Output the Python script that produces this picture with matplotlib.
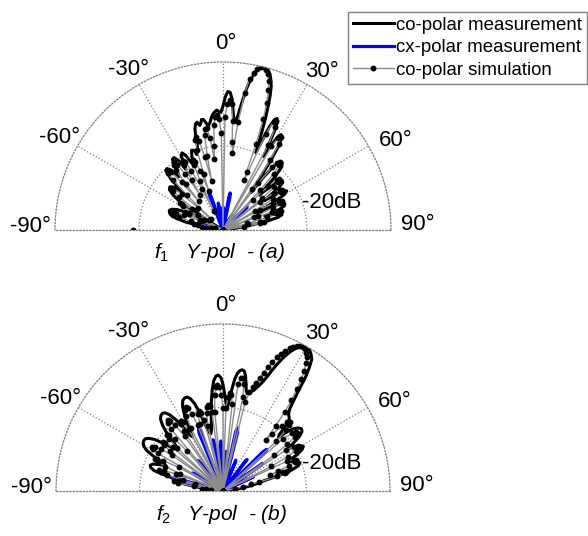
import numpy as np
import matplotlib
matplotlib.use('Agg')
import matplotlib.pyplot as plt

plt.rcParams['font.family'] = ['Liberation Sans', 'DejaVu Sans']
plt.rcParams['mathtext.fontset'] = 'custom'
plt.rcParams['mathtext.it'] = 'Liberation Sans:italic'
plt.rcParams['mathtext.rm'] = 'Liberation Sans'

# ---- (a) f1, Y-pol ----
# co-polar measurement, angle (deg) / level (dB)
a_meas_deg = [-90, -84, -80, -78, -76, -74, -72, -70, -68, -66, -64, -62, -61,
              -59, -57, -55, -53, -51, -49, -47.5, -46.5,
              -45.5, -44, -42.5, -41, -39.5, -38.5,
              -37, -35.5, -34, -32.5, -31.5, -30.5,
              -29.5, -28, -26.5, -25, -24,
              -23, -21.5, -20, -19, -18, -17, -16.3,
              -15.5, -14.5, -13.5, -12.5, -11.7, -11, -10, -9, -8, -7, -6, -5, -4, -3, -2, -1,
              0, 1, 2, 3, 4, 5, 6, 6.8, 7.6, 8.5, 9.5, 10.5, 11.5, 12.5, 13.5, 14.5, 15.5,
              16.5, 17.5, 18.5, 19.3, 20, 20.8, 21.5, 22.2, 23,
              23.6, 24.2, 25, 25.8, 26.7, 27.5, 28.2, 28.8,
              29.5, 30.3, 31.3, 32.5, 33.5, 34.5, 35.5, 36.5,
              37.5, 38.5, 40, 41.5, 43, 44.5, 46,
              47, 48.5, 50, 51.5, 53, 54.5,
              55.5, 57, 58.5, 60, 61.5, 63,
              64, 65.5, 67, 68.5, 70, 71.5,
              72.5, 74, 75.5, 77, 78.5, 80, 82, 84, 90]
a_meas_db = [-40, -40, -35, -31, -28.5, -27.2, -26.6, -26.4, -26.8, -28, -30.5, -35, -40,
             -34, -28, -25.5, -24, -23.7, -24.5, -27, -26,
             -22.5, -20.5, -20.2, -21, -23.5, -23,
             -20.5, -19.3, -19.2, -20.5, -23, -22,
             -19.8, -19.2, -20.2, -22.5, -22.8,
             -21, -19.6, -19.8, -21, -20.5, -19.2, -17,
             -15, -13.9, -13.6, -14.5, -14, -13.2, -13.3, -14.2, -15, -14.3, -13.2, -12.3, -11.8, -11.4, -11.8, -12,
             -10.5, -8.3, -7, -7.2, -8.8, -12, -14.3, -13.8, -12, -9, -5.8, -3.3, -1.7, -0.6, -0.1, 0, -0.3,
             -1, -2.2, -3.8, -6, -8.5, -11.5, -14.5, -17.5, -20,
             -17, -13, -11, -10.5, -11, -13.5, -17, -20,
             -17.5, -14.5, -13.4, -13.8, -16, -20, -25, -29,
             -24, -20.5, -19, -18.7, -19.5, -22.5, -28,
             -26, -22.5, -21.6, -21.8, -23.5, -28,
             -26, -22.8, -22.2, -23.2, -26.5, -31,
             -28, -24.8, -24, -24.3, -25.8, -29.5,
             -28, -26, -25.5, -26.5, -29, -33, -37, -40, -40]

# cx-polar measurement
a_cx_deg = [-90, -79.5, -78, -77, -76, -74.5,
            -72.5, -71, -70, -69, -67.5,
            -23, -21.5, -20.5, -19.5, -18,
            -12.5, -11, -10, -9, -7.5,
            -2.5, -1, 0, 1, 2.5,
            8.5, 10, 11, 12, 13.5,
            28.5, 30, 31, 32, 33.5,
            43.5, 45, 46, 47, 48.5,
            58.5, 60, 61.5, 90]
a_cx_db = [-40, -40, -36, -35, -36.5, -40,
           -40, -35.5, -34.5, -35.5, -40,
           -40, -31.5, -30.3, -31.5, -40,
           -40, -34.5, -33.5, -34.5, -40,
           -40, -35.5, -34.5, -35.5, -40,
           -40, -32, -31, -32, -40,
           -40, -36.8, -36, -36.8, -40,
           -40, -33, -32, -33, -40,
           -40, -37, -40, -40]

# co-polar simulation, one value per degree from -90 to 90 (nan = no point)
a_sim_db = [-18.6, np.nan, -40, -40, -40, -38, -36, -35, -36, -40,
            -37, -34, -33, -34, -38, -32, -29, -27.5, -27, -27.5,
            -28, -30, -34, -40, -34, -31, -30, -31, -35, -40,
            -33, -29, -28, -28.5, -31, -36, -32, -27, -25, -24,
            -24.5, -27, -32, -36, -28, -23, -21, -20.5, -21.5, -25,
            -31, -26, -22, -20.5, -20, -21, -24, -30, -26, -22,
            -21, -21.5, -24, -29, -35, -27, -23, -22, -22.5, -25,
            -30, -26, -20, -17.5, -17, -18, -22, -28, -22, -17,
            -15.5, -15.5, -18, -23, -20, -15, -13, -12.5, -13.5, -17,
            -40, -13, -10, -9, -10, -14, -19, -21.5, -14, -7,
            -3.5, -1.8, -0.8, -0.2, 0, -0.5, -1.3, -2.8, -5, -8,
            -12, -18, -25, -27, -15, -11.5, -11, -12.5, -17, -40,
            -17, -14.5, -14, -15.5, -20, -28, -40, -26, -21, -19.5,
            -19, -19.5, -22, -27, -40, -30, -25, -22.5, -22, -22.5,
            -24, -28, -40, -29, -25, -23.5, -23, -23.5, -26, -31,
            -40, -30, -26.5, -25, -24.5, -25, -27, -32, -40, -31,
            -27.5, -26, -25.5, -26.5, -29, -34, -40, -34, -31, -30,
            -31, -35, -40, -40, -40, -40, -40, -40, -40, -40,
            -40]

# ---- (b) f2, Y-pol ----
b_meas_deg = [-90, -85, -82, -80, -78, -77, -76,
              -75, -73.5, -72, -70.5, -69, -67.5, -66, -65,
              -63.5, -62, -60.5, -59, -57.5, -56, -54.5, -53, -51.5, -50, -48.5, -47,
              -45.5, -44, -42.5, -41, -39.5, -38, -36.5, -35, -33.5, -32, -30.5, -29.5,
              -28.5, -27, -25.5, -24, -22.5, -21, -19.5, -18, -16.5, -15, -13.5, -12, -10.5,
              -9, -7.5, -6, -4.8, -3.5, -2.3, -1, 0, 1, 2, 3,
              4, 5, 6, 7, 8, 9, 10, 11, 12, 13, 14, 15, 16, 17, 18, 19,
              20, 21, 22, 23, 24, 25, 26, 27, 28, 29, 30, 31, 32, 33, 34, 35,
              36, 37, 38, 39, 40, 41, 42, 43, 44, 45, 46,
              47, 48.5, 50, 51.5, 53, 54.5, 56, 57,
              58, 59.5, 61, 62.5, 64, 65, 66,
              67, 68.5, 70, 71.5, 73, 74.5, 76, 78, 80, 83, 86, 90]
b_meas_db = [-40, -40, -35, -31, -28.5, -29, -30,
             -26, -22.8, -21.8, -21.5, -22, -23.5, -25, -24.5,
             -21.5, -19.3, -18.2, -17.7, -17.5, -17.6, -18.3, -19.5, -21.5, -23.5, -25, -25.5,
             -23.5, -20.5, -18.5, -17.2, -16.6, -16.4, -16.7, -17.7, -19.5, -22, -24.5, -25,
             -23, -19.8, -17.5, -16.3, -15.9, -15.9, -16.5, -18, -20.5, -23.5, -25.5, -26, -25,
             -22, -18.5, -15.5, -13.5, -12.4, -12.2, -12.9, -14.5, -16.8, -19, -20,
             -18, -15.5, -13, -11.6, -10.9, -10.6, -10.8, -11.8, -13.5, -15.3, -16, -15.8, -15.2, -14.8, -14, -13.2,
             -12.2, -10.8, -9, -7.2, -5.5, -4, -2.7, -1.7, -0.9, -0.3, 0, -0.2, -0.6, -1.2, -2, -4,
             -6.5, -10, -12.5, -14.5, -15.5, -16, -16.3, -16.8, -18.5, -21, -21.5,
             -19.5, -17.5, -16.5, -16, -16.3, -17.5, -20, -21.5,
             -20, -18.5, -18, -18.7, -20.5, -22.5, -23,
             -21.5, -20.6, -20.4, -21, -22.8, -26, -30, -32, -34, -37, -40, -40]

b_cx_deg = [-90, -78, -77, -76, -75, -74,
            -61.5, -60.5, -59.5, -58.5, -57.5,
            -41.5, -40.5, -39.5, -38.5, -37.5,
            -23.5, -22.5, -21.5, -20.5, -19.5,
            -13, -12, -11, -10, -9,
            -4.5, -3.5, -2.5, -1.5, -0.5,
            2.5, 4, 5, 6.5,
            11, 12, 13, 14, 15,
            21, 22.5, 23.5, 25,
            35, 36.5, 37.5, 39,
            44.5, 45.5, 46.5, 47.5, 48.5,
            53.5, 55, 56, 57.5,
            63.5, 65, 66.5, 90]
b_cx_db = [-40, -40, -29, -27.5, -29, -40,
           -40, -32.5, -31.5, -32.5, -40,
           -40, -31.5, -30.5, -31.5, -40,
           -40, -25, -24, -25, -40,
           -40, -28.5, -27.5, -28.5, -40,
           -40, -29, -28, -29, -40,
           -40, -30.5, -30.5, -40,
           -40, -25.5, -24.5, -25.5, -40,
           -40, -32, -32.5, -40,
           -40, -31, -30.5, -40,
           -40, -26.5, -25.5, -26.5, -40,
           -40, -28.5, -29, -40,
           -40, -32, -40, -40]

b_sim_db = [-40, -40, -40, -40, -40, -37, -35, -36, -40, -33,
            -29, -28, -29, -33, -40, -30, -26, -24.5, -24, -25,
            -28, -40, -29, -25, -23, -22, -22.5, -24, -28, -40,
            -22, -20.5, -20, -20.5, -22, -25, -40, -24, -22, -21.5,
            -22, -24, -40, -25, -22, -21, -21.5, -23, -27, -40,
            -20.5, -19, -18.5, -19, -20.5, -24, -40, -23, -21, -20.5,
            -21, -23, -40, -23, -20, -18.5, -18, -18.5, -20, -23,
            -40, -23, -20.5, -20, -20.5, -22.5, -40, -24, -21, -19.5,
            -19, -19.5, -21, -40, -21, -17, -15, -14.5, -15, -17,
            -20, -40, -20, -17.5, -16.5, -17, -19, -40, -14, -12.5,
            -12.5, -14, -17, -40, -18, -15.5, -14, -13, -11.5, -10,
            -8.5, -7, -5.5, -4.3, -3.2, -2.3, -1.6, -1, -0.6, -0.5,
            -0.7, -1.3, -2.2, -3.5, -5.2, -7.3, -9.8, -12.8, -16, -20,
            -24, -22, -19, -17.5, -17, -17.5, -19, -22.5, -40, -21,
            -18.5, -17.5, -17.5, -18.5, -21, -25, -40, -22, -20, -19,
            -19, -20, -22.5, -27, -40, -23, -21.5, -21, -21.5, -23,
            -26, -28, -25, -24, -24.5, -26.5, -31, -33, -35, -37,
            -40, -40, -40, -40, -40, -40, -40, -40, -40, -40,
            -40]

sim_deg = np.arange(-90, 91)

RMIN = -40


def to_r(db):
    return np.clip(np.asarray(db, dtype=float), RMIN, 0)


def setup_polar(ax):
    ax.set_theta_zero_location('N')
    ax.set_theta_direction(-1)
    ax.set_thetamin(-90)
    ax.set_thetamax(90)
    ax.set_rlim(RMIN, 0)
    ax.set_xticks(np.deg2rad(np.arange(-90, 91, 30)))
    ax.set_xticklabels([])
    ax.set_yticks([-20])
    ax.set_yticklabels([])
    ax.grid(True, color='0.5', linestyle=':', linewidth=0.9)
    for sp in ax.spines.values():
        sp.set_linestyle(':')
        sp.set_color('0.5')
        sp.set_linewidth(0.9)

    # angle labels just outside the outer ring
    for a, f, lab in [(-89, 1.145, '-90°'), (-60.5, 1.12, '-60°'), (-30.5, 1.11, '-30°'),
                      (0.8, 1.11, '0°'), (32, 1.115, '30°'), (62.5, 1.16, '60°'),
                      (88.5, 1.16, '90°')]:
        ax.text(np.deg2rad(a), RMIN + (0 - RMIN) * f, lab, ha='center', va='center', fontsize=16)
    ax.text(np.deg2rad(71), -20, '-20dB', ha='left', va='center', fontsize=16)


def draw_panel(ax, meas_deg, meas_db, cx_deg, cx_db, sim_db):
    setup_polar(ax)
    l1, = ax.plot(np.deg2rad(meas_deg), to_r(meas_db), color='k', lw=2.2,
                  label='co-polar measurement')
    l2, = ax.plot(np.deg2rad(cx_deg), to_r(cx_db), color='#0000ff', lw=2.3,
                  label='cx-polar measurement')
    l3, = ax.plot(np.deg2rad(sim_deg), to_r(sim_db), color='0.55', lw=1.0,
                  marker='o', markersize=3.2, mfc='k', mec='k',
                  label='co-polar simulation')
    return [l1, l2, l3]


fig = plt.figure(figsize=(5.88, 5.36), dpi=100)
W, H = 588, 536


def half_disc_axes(cx, cy, R):
    # square box of side 2R; the upper half-disc sits in it with its centre R/2 below the box centre
    top = cy - R / 2 - R
    return fig.add_axes([(cx - R) / W, (H - top - 2 * R) / H, 2 * R / W, 2 * R / H],
                        projection='polar')


ax1 = half_disc_axes(223, 230, 168)
handles = draw_panel(ax1, a_meas_deg, a_meas_db, a_cx_deg, a_cx_db, a_sim_db)

ax2 = half_disc_axes(223, 491, 167)
draw_panel(ax2, b_meas_deg, b_meas_db, b_cx_deg, b_cx_db, b_sim_db)

fig.text(220 / W, 1 - 252 / H, r'$f_1$   Y-pol  - (a)', ha='center', va='center',
         fontsize=15, style='italic')
fig.text(222 / W, 1 - 515 / H, r'$f_2$   Y-pol  - (b)', ha='center', va='center',
         fontsize=15, style='italic')

leg = fig.legend(handles, [h.get_label() for h in handles], loc='upper right',
                 bbox_to_anchor=(587 / W, 1 - 12 / H), fontsize=13.4, fancybox=False,
                 edgecolor='0.5', framealpha=1, borderaxespad=0, handlelength=2.2,
                 handletextpad=0.15, labelspacing=0.3, borderpad=0.25)
leg.get_frame().set_linewidth(1.0)

fig.savefig('out.png', dpi=100)
